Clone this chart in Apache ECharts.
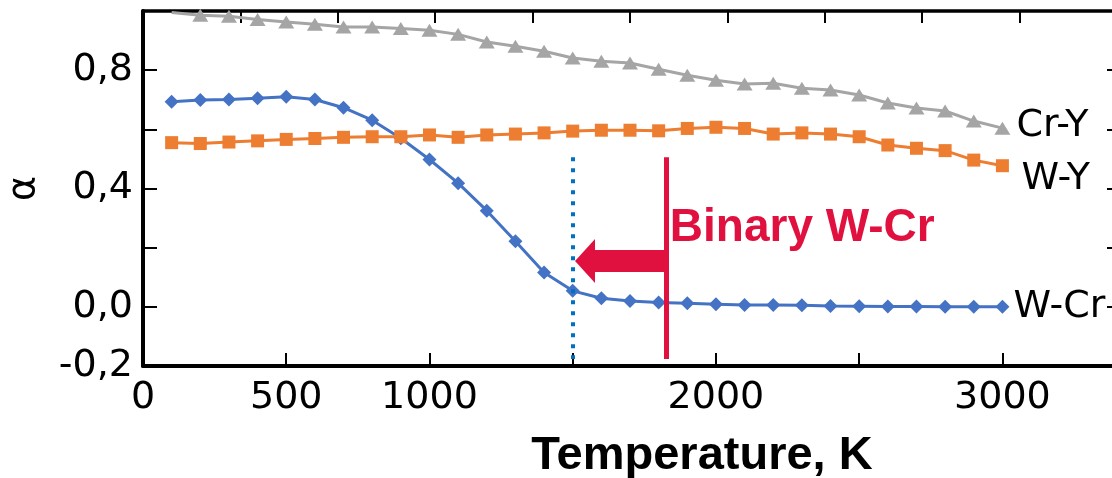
<!DOCTYPE html>
<html>
<head>
<meta charset="utf-8">
<script src="https://cdn.jsdelivr.net/npm/echarts@6/dist/echarts.min.js"></script>
<style>
  html, body { margin: 0; padding: 0; background: #fff; }
  #container1 { width: 1112px; height: 478px; }
</style>
</head>
<body>
<div id="container1"></div>
<script>
var temps = [100, 200, 300, 400, 500, 600, 700, 800, 900, 1000, 1100, 1200, 1300, 1400, 1500,
  1600, 1700, 1800, 1900, 2000, 2100, 2200, 2300, 2400, 2500, 2600, 2700, 2800, 2900, 3000];
var wCr = [0.693, 0.699, 0.701, 0.705, 0.710, 0.701, 0.673, 0.631, 0.570, 0.498, 0.418, 0.325, 0.222, 0.116, 0.054,
  0.029, 0.020, 0.015, 0.012, 0.009, 0.006, 0.006, 0.005, 0.003, 0.002, 0.001, 0.001, 0.000, 0.000, 0.000];
var crY = [0.995, 0.986, 0.982, 0.971, 0.963, 0.955, 0.946, 0.946, 0.941, 0.935, 0.921, 0.895, 0.881, 0.864, 0.841,
  0.830, 0.824, 0.803, 0.783, 0.766, 0.753, 0.756, 0.739, 0.733, 0.716, 0.689, 0.672, 0.662, 0.628, 0.604];
var wY = [0.555, 0.552, 0.557, 0.561, 0.566, 0.569, 0.573, 0.575, 0.575, 0.581, 0.573, 0.581, 0.584, 0.588, 0.594,
  0.597, 0.597, 0.595, 0.603, 0.607, 0.603, 0.584, 0.588, 0.584, 0.575, 0.547, 0.536, 0.528, 0.496, 0.477];
var xLabels = [0, 500, 1000, 2000, 3000];
var yLabels = [-0.2, 0, 0.4, 0.8];
// annotation positions (K / alpha)
var dottedT = 1500;
var binaryT = 1825;
var arrowHeadT = 1543;
var arrowY = 0.155;
var markTop = 0.506;
var markBottom = -0.176;

var red = '#E0103F';
var font = 'DejaVu Sans';

function pairs(xs, ys) {
  return xs.map(function (x, i) { return [x, ys[i]]; });
}

function commaLabel(v) {
  var k = Math.round(v * 10);
  for (var i = 0; i < yLabels.length; i++) {
    if (Math.round(yLabels[i] * 10) === k) return (k / 10).toFixed(1).replace('.', ',');
  }
  return '';
}

function makeSeries(name, data, symbol, size, color, offset) {
  return {
    name: name,
    type: 'line',
    data: data,
    symbol: symbol,
    symbolSize: size,
    showSymbol: true,
    animation: false,
    lineStyle: { width: 3, color: color },
    itemStyle: { color: color },
    endLabel: {
      show: true,
      formatter: name,
      color: '#000',
      fontFamily: font,
      fontSize: 38,
      distance: 0,
      offset: offset
    }
  };
}

var chart = echarts.init(document.getElementById('container1'));

var crYData = pairs(temps, crY);
crYData[0] = { value: crYData[0], symbol: 'none' };

var blue = makeSeries('W-Cr', pairs(temps, wCr), 'diamond', 14, '#4472C4', [11, 0]);
blue.markLine = {
  silent: true,
  animation: false,
  symbol: 'none',
  label: { show: false },
  data: [
    [{ coord: [dottedT, markTop], lineStyle: { color: '#0070C0', width: 4, type: [4, 7] } }, { coord: [dottedT, markBottom] }],
    [{ coord: [binaryT, arrowY], symbol: 'none', lineStyle: { color: red, width: 22, type: 'solid' } },
     { coord: [arrowHeadT, arrowY], symbol: 'triangle', symbolSize: [44, 20] }],
    [{ coord: [binaryT, markTop], lineStyle: { color: red, width: 5, type: 'solid' } }, { coord: [binaryT, markBottom] }]
  ]
};
blue.markPoint = {
  silent: true,
  animation: false,
  symbolSize: 0,
  data: [{ coord: [1839, 0.267] }],
  label: {
    show: true,
    position: 'right',
    distance: 0,
    formatter: 'Binary W-Cr',
    color: red,
    fontFamily: 'Liberation Sans',
    fontWeight: 'bold',
    fontSize: 46
  }
};

var option = {
  textStyle: { fontFamily: font },
  grid: { left: 143, top: 11, width: 974, height: 355, containLabel: false, outerBoundsMode: 'none' },
  xAxis: [{
    type: 'value',
    min: 0,
    max: 3400,
    interval: 500,
    name: 'Temperature, K',
    nameLocation: 'middle',
    nameGap: 67,
    nameTextStyle: { fontFamily: 'Liberation Sans', fontWeight: 'bold', fontSize: 47, color: '#000', padding: [0, 0, 0, 144] },
    axisLine: { onZero: false, lineStyle: { color: '#000', width: 4 } },
    axisTick: { inside: true, length: 13, lineStyle: { color: '#000', width: 2 } },
    axisLabel: {
      color: '#000', fontSize: 38, margin: 13,
      formatter: function (v) { return xLabels.indexOf(v) >= 0 ? String(v) : ''; }
    },
    splitLine: { show: false }
  }, {
    type: 'value',
    position: 'top',
    min: 0,
    max: 3400,
    interval: 340,
    axisLine: { show: true, onZero: false, lineStyle: { color: '#000', width: 3.5 } },
    axisTick: { show: true, inside: true, length: 12, lineStyle: { color: '#000', width: 2 } },
    axisLabel: { show: false },
    splitLine: { show: false }
  }],
  yAxis: [{
    type: 'value',
    min: -0.2,
    max: 1,
    interval: 0.2,
    name: 'α',
    nameLocation: 'middle',
    nameGap: 100,
    nameTextStyle: { fontSize: 38, color: '#000' },
    axisLine: { show: true, onZero: false, lineStyle: { color: '#000', width: 4 } },
    axisTick: { show: true, inside: true, length: 14, lineStyle: { color: '#000', width: 2 } },
    axisLabel: { color: '#000', fontSize: 38, margin: 10, formatter: commaLabel },
    splitLine: { show: false }
  }, {
    type: 'value',
    position: 'right',
    min: -0.2,
    max: 1,
    interval: 0.2,
    axisLine: { show: true, onZero: false, lineStyle: { color: '#000', width: 4 } },
    axisTick: { show: true, inside: true, length: 10, lineStyle: { color: '#000', width: 2 } },
    axisLabel: { show: false },
    splitLine: { show: false }
  }],
  series: [
    blue,
    makeSeries('Cr-Y', crYData, 'triangle', [16, 13], '#A5A5A5', [14, -2]),
    makeSeries('W-Y', pairs(temps, wY), 'rect', 13, '#ED7D31', [19, 13])
  ]
};
chart.setOption(option, true);
</script>
</body>
</html>
